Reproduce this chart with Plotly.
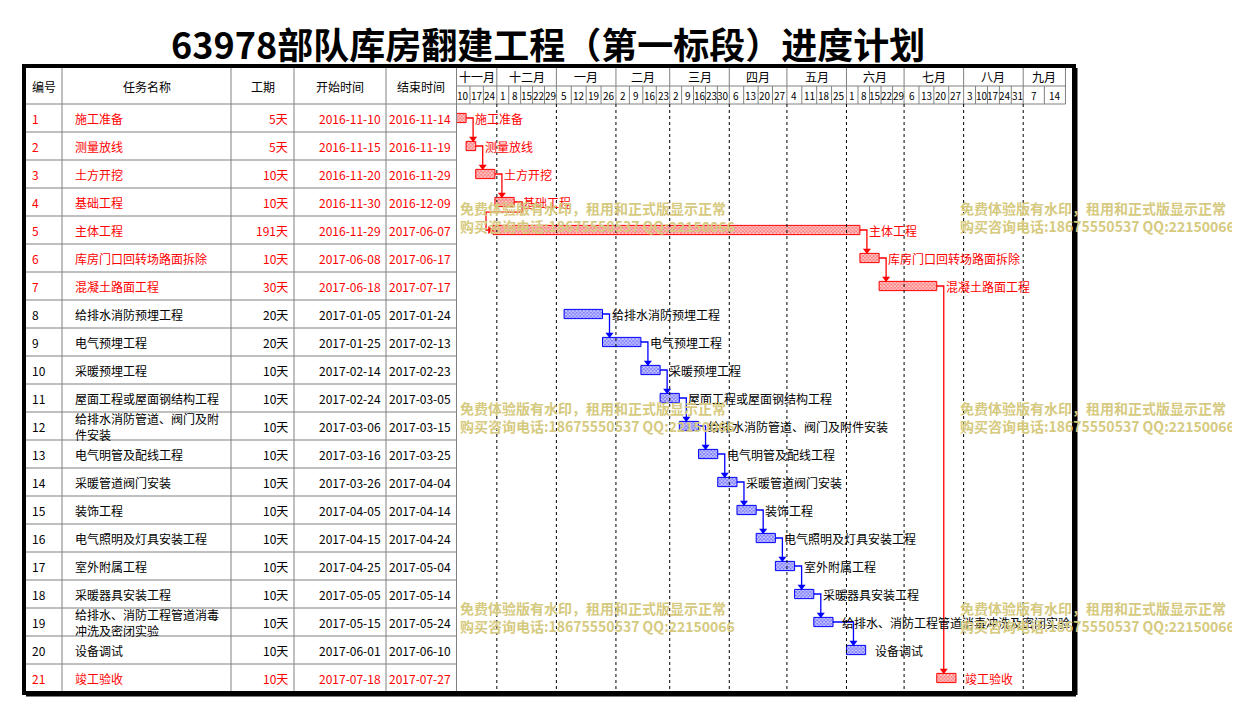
import plotly.graph_objects as go
import pandas as pd

# ---------------- data ----------------
title = "63978部队库房翻建工程（第一标段）进度计划"
ids = list(range(1, 22))
names = ["施工准备", "测量放线", "土方开挖", "基础工程", "主体工程", "库房门口回转场路面拆除", "混凝土路面工程",
         "给排水消防预埋工程", "电气预埋工程", "采暖预埋工程", "屋面工程或屋面钢结构工程",
         "给排水消防管道、阀门及附件安装", "电气明管及配线工程", "采暖管道阀门安装", "装饰工程",
         "电气照明及灯具安装工程", "室外附属工程", "采暖器具安装工程",
         "给排水、消防工程管道消毒冲洗及密闭实验", "设备调试", "竣工验收"]
table_names = names.copy()
table_names[11] = "给排水消防管道、阀门及附<br>件安装"
table_names[18] = "给排水、消防工程管道消毒<br>冲洗及密闭实验"
durations = [5, 5, 10, 10, 191, 10, 30, 20, 20, 10, 10, 10, 10, 10, 10, 10, 10, 10, 10, 10, 10]
starts = ["2016-11-10", "2016-11-15", "2016-11-20", "2016-11-30", "2016-11-29", "2017-06-08", "2017-06-18",
          "2017-01-05", "2017-01-25", "2017-02-14", "2017-02-24", "2017-03-06", "2017-03-16", "2017-03-26",
          "2017-04-05", "2017-04-15", "2017-04-25", "2017-05-05", "2017-05-15", "2017-06-01", "2017-07-18"]
ends = ["2016-11-14", "2016-11-19", "2016-11-29", "2016-12-09", "2017-06-07", "2017-06-17", "2017-07-17",
        "2017-01-24", "2017-02-13", "2017-02-23", "2017-03-05", "2017-03-15", "2017-03-25", "2017-04-04",
        "2017-04-14", "2017-04-24", "2017-05-04", "2017-05-14", "2017-05-24", "2017-06-10", "2017-07-27"]
critical = [1, 2, 3, 4, 5, 6, 7, 21]
links = [(1, 2), (2, 3), (3, 4), (4, 5), (5, 6), (6, 7), (7, 21),
         (8, 9), (9, 10), (10, 11), (11, 12), (12, 13), (13, 14), (14, 15), (15, 16),
         (16, 17), (17, 18), (18, 19), (19, 20)]
headers = ["编号", "任务名称", "工期", "开始时间", "结束时间"]
month_names = ["十一月", "十二月", "一月", "二月", "三月", "四月", "五月", "六月", "七月", "八月", "九月"]
month_starts = ["2016-11-10", "2016-12-01", "2017-01-01", "2017-02-01", "2017-03-01", "2017-04-01",
                "2017-05-01", "2017-06-01", "2017-07-01", "2017-08-01", "2017-09-01"]
week_labels = [[10, 17, 24], [1, 8, 15, 22, 29], [5, 12, 19, 26], [2, 9, 16, 23], [2, 9, 16, 23, 30],
               [6, 13, 20, 27], [4, 11, 18, 25], [1, 8, 15, 22, 29], [6, 13, 20, 27],
               [3, 10, 17, 24, 31], [7, 14]]
watermark1 = "免费体验版有水印，租用和正式版显示正常"
watermark2 = "购买咨询电话:18675550537 QQ:22150066"

# ---------------- layout constants ----------------
OFF = 8                      # page body margin
W, H = 1240 - OFF, 717 - OFF
FONT = "Noto Sans CJK SC"
RED, BLUE = "#ff0000", "#0000ff"
GRID = "#808080"
X_START, X_END = "2016-11-10", "2017-09-23"
GX0 = 456.5
t0, t1 = pd.Timestamp(X_START), pd.Timestamp(X_END)
RANGE_DAYS = (t1 - t0).days
PXD = 1.921
GX1 = GX0 + RANGE_DAYS * PXD
ROW_TOP, ROW_H = 104, 28
NROWS = len(ids)
TOP, HDR_MID = 67, 86
BOTTOM = ROW_TOP + ROW_H * NROWS
COLS = [26, 62, 231, 294, 386, GX0]
BAR_W = 0.33


def px(x):
    return (x - OFF) / W


def py(y):
    return 1 - (y - OFF) / H


def shift(ts, pixels):
    return ts + pd.Timedelta(days=pixels / PXD)


def iso(ts):
    return ts.strftime("%Y-%m-%d %H:%M:%S")


fig = go.Figure()

# ---------------- bars ----------------
for color, rows in [(RED, critical), (BLUE, [i for i in ids if i not in critical])]:
    fig.add_trace(go.Bar(
        orientation="h",
        y=[r for r in rows],
        base=[starts[r - 1] for r in rows],
        x=[((pd.Timestamp(ends[r - 1]) - pd.Timestamp(starts[r - 1])).days + 1) * 86400000 for r in rows],
        width=BAR_W,
        marker=dict(color=color, line=dict(color=color, width=1),
                    pattern=dict(shape="x", fgcolor=color, bgcolor="white", size=2.5, solidity=0.75)),
        showlegend=False, hoverinfo="skip"))

# ---------------- links ----------------
for a, b in links:
    color = RED if a in critical else BLUE
    pe = pd.Timestamp(ends[a - 1]) + pd.Timedelta(days=1)
    ss = pd.Timestamp(starts[b - 1])
    if ss >= pe - pd.Timedelta(hours=1):
        xv = shift(ss, 7)
        xs = [iso(pe), iso(xv), iso(xv)]
        ys = [a, a, b - BAR_W / 2]
        mx, my, sym = [iso(xv)], [b - BAR_W / 2 - 0.1], "triangle-down"
    else:
        x1 = shift(pe, 8)
        x2 = shift(ss, -7)
        ym = a + 0.36
        xs = [iso(pe), iso(x1), iso(x1), iso(x2), iso(x2), iso(ss)]
        ys = [a, a, ym, ym, b, b]
        mx, my, sym = [iso(shift(ss, -3))], [b], "triangle-right"
    fig.add_trace(go.Scatter(x=xs, y=ys, mode="lines", line=dict(color=color, width=1.3),
                             showlegend=False, hoverinfo="skip"))
    fig.add_trace(go.Scatter(x=mx, y=my, mode="markers",
                             marker=dict(symbol=sym, size=7, color=color),
                             showlegend=False, hoverinfo="skip"))

annotations = []
shapes = []

# bar labels
for i in ids:
    pe = pd.Timestamp(ends[i - 1]) + pd.Timedelta(days=1)
    annotations.append(dict(x=iso(pe), y=i, xref="x", yref="y", text=names[i - 1], showarrow=False,
                            xanchor="left", yanchor="middle", xshift=7,
                            font=dict(family=FONT, size=12, color=RED if i in critical else "black")))

# ---------------- table ----------------
hdr_centers = [(COLS[k] + COLS[k + 1]) / 2 for k in range(5)]
for k, h in enumerate(headers):
    annotations.append(dict(x=px(hdr_centers[k]), y=py(HDR_MID), xref="paper", yref="paper", text=h,
                            showarrow=False, xanchor="center", yanchor="middle",
                            font=dict(family=FONT, size=12, color="black")))
for i in ids:
    c = RED if i in critical else "black"
    f = dict(family=FONT, size=12, color=c)
    common = dict(y=i, xref="paper", yref="y", showarrow=False, yanchor="middle", font=f)
    annotations += [
        dict(x=px(30), text=str(i), xanchor="left", **common),
        dict(x=px(73), text=table_names[i - 1], xanchor="left", align="left", **common),
        dict(x=px(290), text=f"{durations[i - 1]}天", xanchor="right", **common),
        dict(x=px(383), text=starts[i - 1], xanchor="right", **common),
        dict(x=px(453), text=ends[i - 1], xanchor="right", **common),
    ]

gl = dict(color=GRID, width=1)
for cx in COLS[1:]:
    shapes.append(dict(type="line", xref="paper", yref="paper", x0=px(cx), x1=px(cx),
                       y0=py(TOP), y1=py(BOTTOM), line=gl))
for r in range(NROWS):
    yy = ROW_TOP + ROW_H * r
    shapes.append(dict(type="line", xref="paper", yref="paper", x0=px(COLS[0]),
                       x1=px(GX1 if r == 0 else GX0), y0=py(yy), y1=py(yy), line=gl))

# ---------------- timeline header ----------------
shapes.append(dict(type="line", xref="paper", yref="paper", x0=px(GX0), x1=px(GX1),
                   y0=py(HDR_MID), y1=py(HDR_MID), line=gl))
shapes.append(dict(type="line", xref="paper", yref="paper", x0=px(GX1), x1=px(GX1),
                   y0=py(TOP), y1=py(ROW_TOP), line=gl))
bounds = [pd.Timestamp(m) for m in month_starts] + [t1]
for k, m in enumerate(month_names):
    ms, me = bounds[k], bounds[k + 1]
    if k > 0:
        shapes.append(dict(type="line", xref="x", yref="paper", x0=iso(ms), x1=iso(ms),
                           y0=py(TOP), y1=py(ROW_TOP), line=gl))
        shapes.append(dict(type="line", xref="x", yref="paper", x0=iso(ms), x1=iso(ms),
                           y0=py(ROW_TOP), y1=py(BOTTOM), line=dict(color="black", width=1, dash="dot")))
    annotations.append(dict(x=iso(ms + (me - ms) / 2), y=py((TOP + HDR_MID) / 2), xref="x", yref="paper",
                            text=m, showarrow=False, yanchor="middle",
                            font=dict(family=FONT, size=12, color="black")))
    labs = week_labels[k]
    n = len(labs)
    step = (me - ms) / n
    for j, lab in enumerate(labs):
        if j > 0:
            xb = ms + step * j
            shapes.append(dict(type="line", xref="x", yref="paper", x0=iso(xb), x1=iso(xb),
                               y0=py(HDR_MID), y1=py(ROW_TOP), line=gl))
        annotations.append(dict(x=iso(ms + step * (j + 0.5)), y=py((HDR_MID + ROW_TOP) / 2), xref="x",
                                yref="paper", text=str(lab), showarrow=False, yanchor="middle",
                                font=dict(family=FONT, size=10, color="black")))

# ---------------- frame ----------------
shapes.append(dict(type="rect", xref="paper", yref="paper", x0=px(24), x1=px(1074), y0=py(66), y1=py(693),
                   line=dict(color="black", width=4)))
shapes.append(dict(type="line", xref="paper", yref="paper", x0=px(1076), x1=px(1076), y0=py(68), y1=py(695),
                   line=dict(color="black", width=3)))
shapes.append(dict(type="line", xref="paper", yref="paper", x0=px(26), x1=px(1076), y0=py(695), y1=py(695),
                   line=dict(color="black", width=3)))

# ---------------- title ----------------
annotations.append(dict(x=px(548), y=py(43), xref="paper", yref="paper", text=f"<b>{title}</b>",
                        showarrow=False, xanchor="center", yanchor="middle",
                        font=dict(family=FONT, size=36, color="black")))

# ---------------- watermarks ----------------
wm = dict(family=FONT, size=14, color="rgb(214,202,128)")
for wx in [458, 958]:
    for wy in [208, 408, 608]:
        annotations.append(dict(x=px(wx), y=py(wy), xref="paper", yref="paper", text=f"<b>{watermark1}</b>",
                                showarrow=False, xanchor="left", yanchor="middle", font=wm))
        annotations.append(dict(x=px(wx), y=py(wy + 18), xref="paper", yref="paper",
                                text=f"<b>{watermark2}</b>", showarrow=False, xanchor="left",
                                yanchor="middle", font=wm))

fig.update_layout(
    width=W, height=H, autosize=False,
    margin=dict(l=0, r=0, t=0, b=0),
    paper_bgcolor="white", plot_bgcolor="white",
    barmode="overlay",
    xaxis=dict(type="date", range=[X_START, X_END], domain=[px(GX0), px(GX1)], visible=False, fixedrange=True),
    yaxis=dict(range=[NROWS + 0.5, 0.5], domain=[py(BOTTOM), py(ROW_TOP)], visible=False, fixedrange=True),
    shapes=shapes, annotations=annotations,
    font=dict(family=FONT),
)
fig.write_html("out.html")
